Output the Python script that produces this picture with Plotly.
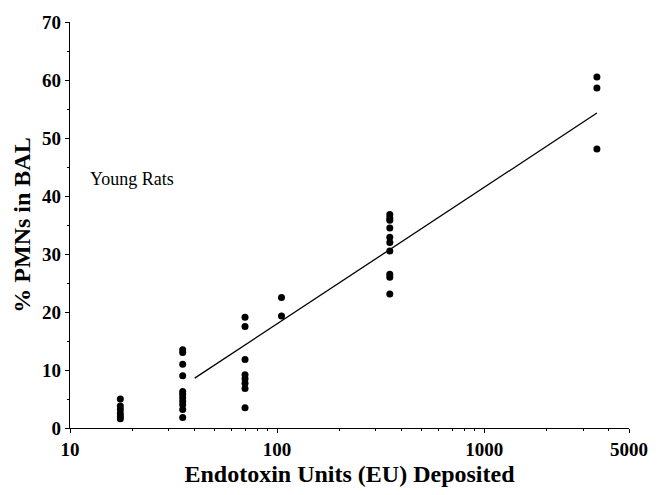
import plotly.graph_objects as go

# Endotoxin dose deposited (EU) for each group of young rats
dose_groups = [17.5, 35, 70, 105, 350, 3500]

# % PMNs in BAL, individual animals per dose group
pmn_175 = [5.0, 3.8, 3.2, 2.5, 2.0, 1.6]
pmn_35 = [13.5, 13.0, 11.0, 9.0, 6.3, 5.8, 5.2, 4.6, 4.0, 3.2, 1.8]
pmn_70 = [19.1, 17.5, 11.8, 9.2, 8.5, 7.7, 6.8, 3.5]
pmn_105 = [22.5, 19.3]
pmn_350 = [36.8, 36.2, 35.8, 34.5, 32.9, 32.0, 30.5, 26.5, 26.0, 23.1]
pmn_3500 = [60.5, 58.6, 48.1]

# Regression line (log dose vs % PMNs), endpoints
fit_x = [40, 3500]
fit_y = [8.6, 54.3]

x_tick_vals = [10, 100, 1000, 5000]
x_tick_text = ["10", "100", "1000", "5000"]
x_minor_vals = [20, 30, 40, 50, 60, 70, 80, 90,
                200, 300, 400, 500, 600, 700, 800, 900,
                2000, 3000, 4000]
y_tick_vals = [0, 10, 20, 30, 40, 50, 60, 70]

groups = [pmn_175, pmn_35, pmn_70, pmn_105, pmn_350, pmn_3500]
xs, ys = [], []
for dose, vals in zip(dose_groups, groups):
    xs.extend([dose] * len(vals))
    ys.extend(vals)

serif = "Liberation Serif, Times New Roman, serif"

fig = go.Figure()
fig.add_trace(go.Scatter(
    x=fit_x, y=fit_y, mode="lines",
    line=dict(color="black", width=1.3),
    hoverinfo="skip", showlegend=False,
))
fig.add_trace(go.Scatter(
    x=xs, y=ys, mode="markers",
    marker=dict(color="black", size=7, line=dict(width=0)),
    showlegend=False,
))

fig.add_annotation(
    x=1.085, y=43, xref="x", yref="y",
    text="Young Rats", showarrow=False, xanchor="left", yanchor="middle",
    font=dict(family=serif, size=18, color="black"),
)

fig.update_layout(
    width=660, height=495,
    margin=dict(l=70, r=22, t=20, b=66),
    paper_bgcolor="white", plot_bgcolor="white",
    font=dict(family=serif, color="black"),
)

tick_font = dict(family=serif, size=19, color="black", weight="bold")
title_font = dict(family=serif, size=24, color="black", weight="bold")

fig.update_xaxes(
    type="log", range=[1, 3.69897],
    tickmode="array", tickvals=x_tick_vals, ticktext=x_tick_text,
    ticks="outside", ticklen=4, tickwidth=1, tickcolor="black",
    minor=dict(tickmode="array", tickvals=x_minor_vals, ticks="outside",
               ticklen=2, tickwidth=1, tickcolor="black", showgrid=False),
    showline=True, linecolor="black", linewidth=1.3,
    showgrid=False, zeroline=False,
    tickfont=tick_font,
    title=dict(text="Endotoxin Units (EU) Deposited", font=title_font, standoff=6),
)

fig.update_yaxes(
    range=[0, 70],
    tickmode="array", tickvals=y_tick_vals,
    ticks="outside", ticklen=4, tickwidth=1, tickcolor="black",
    minor=dict(dtick=5, tick0=0, ticks="outside", ticklen=2, tickwidth=1,
               tickcolor="black", showgrid=False),
    showline=True, linecolor="black", linewidth=1.3,
    showgrid=False, zeroline=False,
    tickfont=tick_font,
    title=dict(text="% PMNs in BAL", font=title_font, standoff=4),
)

fig.write_html("out.html")
